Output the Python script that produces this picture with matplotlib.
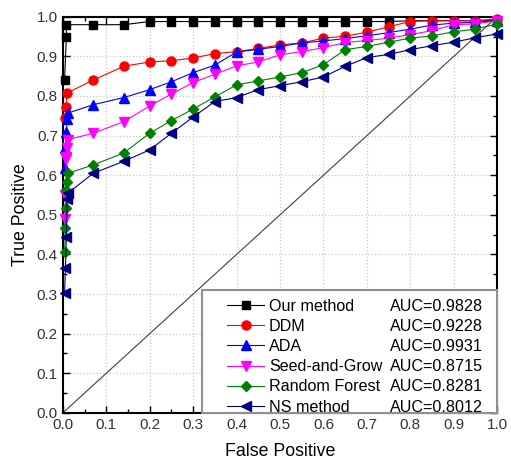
import numpy as np
import matplotlib
matplotlib.use("Agg")
import matplotlib.pyplot as plt
from matplotlib.lines import Line2D
from matplotlib.patches import Rectangle
from matplotlib.ticker import MultipleLocator

plt.rcParams['font.family'] = ['Liberation Sans', 'DejaVu Sans']

# x positions shared by the tail of every curve
fp_tail = [0.07, 0.14, 0.2, 0.25, 0.3, 0.35, 0.4, 0.45, 0.5, 0.55, 0.6,
           0.65, 0.7, 0.75, 0.8, 0.85, 0.9, 0.95, 1.0]

# Our method
ours_fp = [0.004, 0.008, 0.008] + fp_tail
ours_tp = [0.84, 0.95, 0.98, 0.98, 0.98, 0.988, 0.988, 0.988, 0.988, 0.988,
           0.988, 0.988, 0.988, 0.988, 0.988, 0.988, 0.988, 0.99, 0.99,
           0.99, 0.99, 0.99]

# DDM
ddm_fp = [0.006, 0.008, 0.01] + fp_tail
ddm_tp = [0.745, 0.773, 0.808, 0.84, 0.875, 0.886, 0.889, 0.896, 0.907,
          0.912, 0.92, 0.929, 0.934, 0.946, 0.951, 0.961, 0.975, 0.988,
          0.99, 0.99, 0.99, 0.995]

# ADA
ada_fp = [0.004, 0.006, 0.008, 0.01, 0.012] + fp_tail
ada_tp = [0.618, 0.668, 0.708, 0.742, 0.757, 0.778, 0.796, 0.816, 0.836,
          0.859, 0.878, 0.911, 0.918, 0.925, 0.934, 0.939, 0.945, 0.952,
          0.96, 0.969, 0.979, 0.984, 0.986, 0.99]

# Seed-and-Grow
sag_fp = [0.004, 0.006, 0.008, 0.008, 0.01, 0.012] + fp_tail
sag_tp = [0.49, 0.55, 0.64, 0.647, 0.668, 0.69, 0.706, 0.735, 0.775,
          0.805, 0.834, 0.855, 0.876, 0.886, 0.904, 0.912, 0.922, 0.935,
          0.94, 0.946, 0.955, 0.965, 0.98, 0.982, 0.99]

# Random Forest
rf_fp = [0.004, 0.006, 0.008, 0.008, 0.01, 0.012] + fp_tail
rf_tp = [0.407, 0.466, 0.517, 0.562, 0.584, 0.605, 0.626, 0.656, 0.706,
         0.738, 0.767, 0.798, 0.828, 0.838, 0.848, 0.859, 0.879, 0.917,
         0.925, 0.936, 0.946, 0.952, 0.962, 0.969, 0.982]

# NS method
ns_fp = [0.004, 0.006, 0.008, 0.01, 0.012] + fp_tail
ns_tp = [0.303, 0.366, 0.445, 0.54, 0.555, 0.605, 0.635, 0.664, 0.706,
         0.747, 0.786, 0.796, 0.816, 0.826, 0.836, 0.848, 0.875, 0.897,
         0.905, 0.917, 0.927, 0.936, 0.947, 0.957]

names = ['Our method', 'DDM', 'ADA', 'Seed-and-Grow', 'Random Forest', 'NS method']
auc_labels = ['AUC=0.9828', 'AUC=0.9228', 'AUC=0.9931', 'AUC=0.8715',
              'AUC=0.8281', 'AUC=0.8012']

series = [(ours_fp, ours_tp), (ddm_fp, ddm_tp), (ada_fp, ada_tp),
          (sag_fp, sag_tp), (rf_fp, rf_tp), (ns_fp, ns_tp)]
colors = ['black', '#ff0000', '#0000ff', '#ff00ff', '#008000', '#000080']
markers = ['s', 'o', '^', 'v', 'D', '<']
msizes = [6, 6.5, 7, 7, 5.5, 7]

fig = plt.figure(figsize=(5.11, 4.66), dpi=100)
ax = fig.add_axes([0.123, 0.114, 0.850, 0.850])

# diagonal reference line
ax.plot([0, 1], [0, 1], color='#404040', lw=0.8, zorder=1)

handles = []
for (fp, tp), c, m, ms, name in zip(series, colors, markers, msizes, names):
    h, = ax.plot(fp, tp, color=c, marker=m, markersize=ms, lw=0.8,
                 label=name, zorder=3, clip_on=False)
    handles.append(h)

ax.set_xlim(0, 1)
ax.set_ylim(0, 1)
ax.xaxis.set_major_locator(MultipleLocator(0.1))
ax.yaxis.set_major_locator(MultipleLocator(0.1))
ax.xaxis.set_minor_locator(MultipleLocator(0.05))
ax.yaxis.set_minor_locator(MultipleLocator(0.05))
ax.xaxis.set_major_formatter(plt.FormatStrFormatter('%.1f'))
ax.yaxis.set_major_formatter(plt.FormatStrFormatter('%.1f'))
ax.tick_params(which='both', direction='in', top=True, right=True,
               labelsize=11, colors='black')
ax.tick_params(which='major', length=5, width=1)
ax.tick_params(which='minor', length=3, width=1)
for tl in ax.get_xticklabels() + ax.get_yticklabels():
    tl.set_color('#333333')
ax.grid(True, which='major', color='#c8c8c8', linestyle=':', lw=0.9)
ax.set_axisbelow(True)
for sp in ax.spines.values():
    sp.set_linewidth(1.5)

ax.set_xlabel('False Positive', fontsize=12.8, labelpad=8)
ax.set_ylabel('True Positive', fontsize=12.8, labelpad=6)

# legend box drawn by hand, names and AUC values as two frameless legends
ax.add_patch(Rectangle((0.32, 0.0), 0.68, 0.311, transform=ax.transAxes,
                       facecolor='white', edgecolor='#909090', lw=1.5,
                       zorder=5, clip_on=False))

leg = ax.legend(handles=handles, loc='upper left',
                bbox_to_anchor=(0.378, 0.288), borderaxespad=0,
                fontsize=11.6, handlelength=2.3, handletextpad=0.3,
                labelspacing=0.32, borderpad=0, frameon=False)
leg.set_zorder(6)
ax.add_artist(leg)

blank = [Line2D([], [], linestyle='none') for _ in auc_labels]
leg2 = ax.legend(handles=blank, labels=auc_labels, loc='upper right',
                 bbox_to_anchor=(0.968, 0.288), borderaxespad=0,
                 fontsize=11.6, handlelength=0, handletextpad=0,
                 labelspacing=0.32, borderpad=0, frameon=False)
leg2.set_zorder(6)

fig.savefig('out.png', dpi=100)
